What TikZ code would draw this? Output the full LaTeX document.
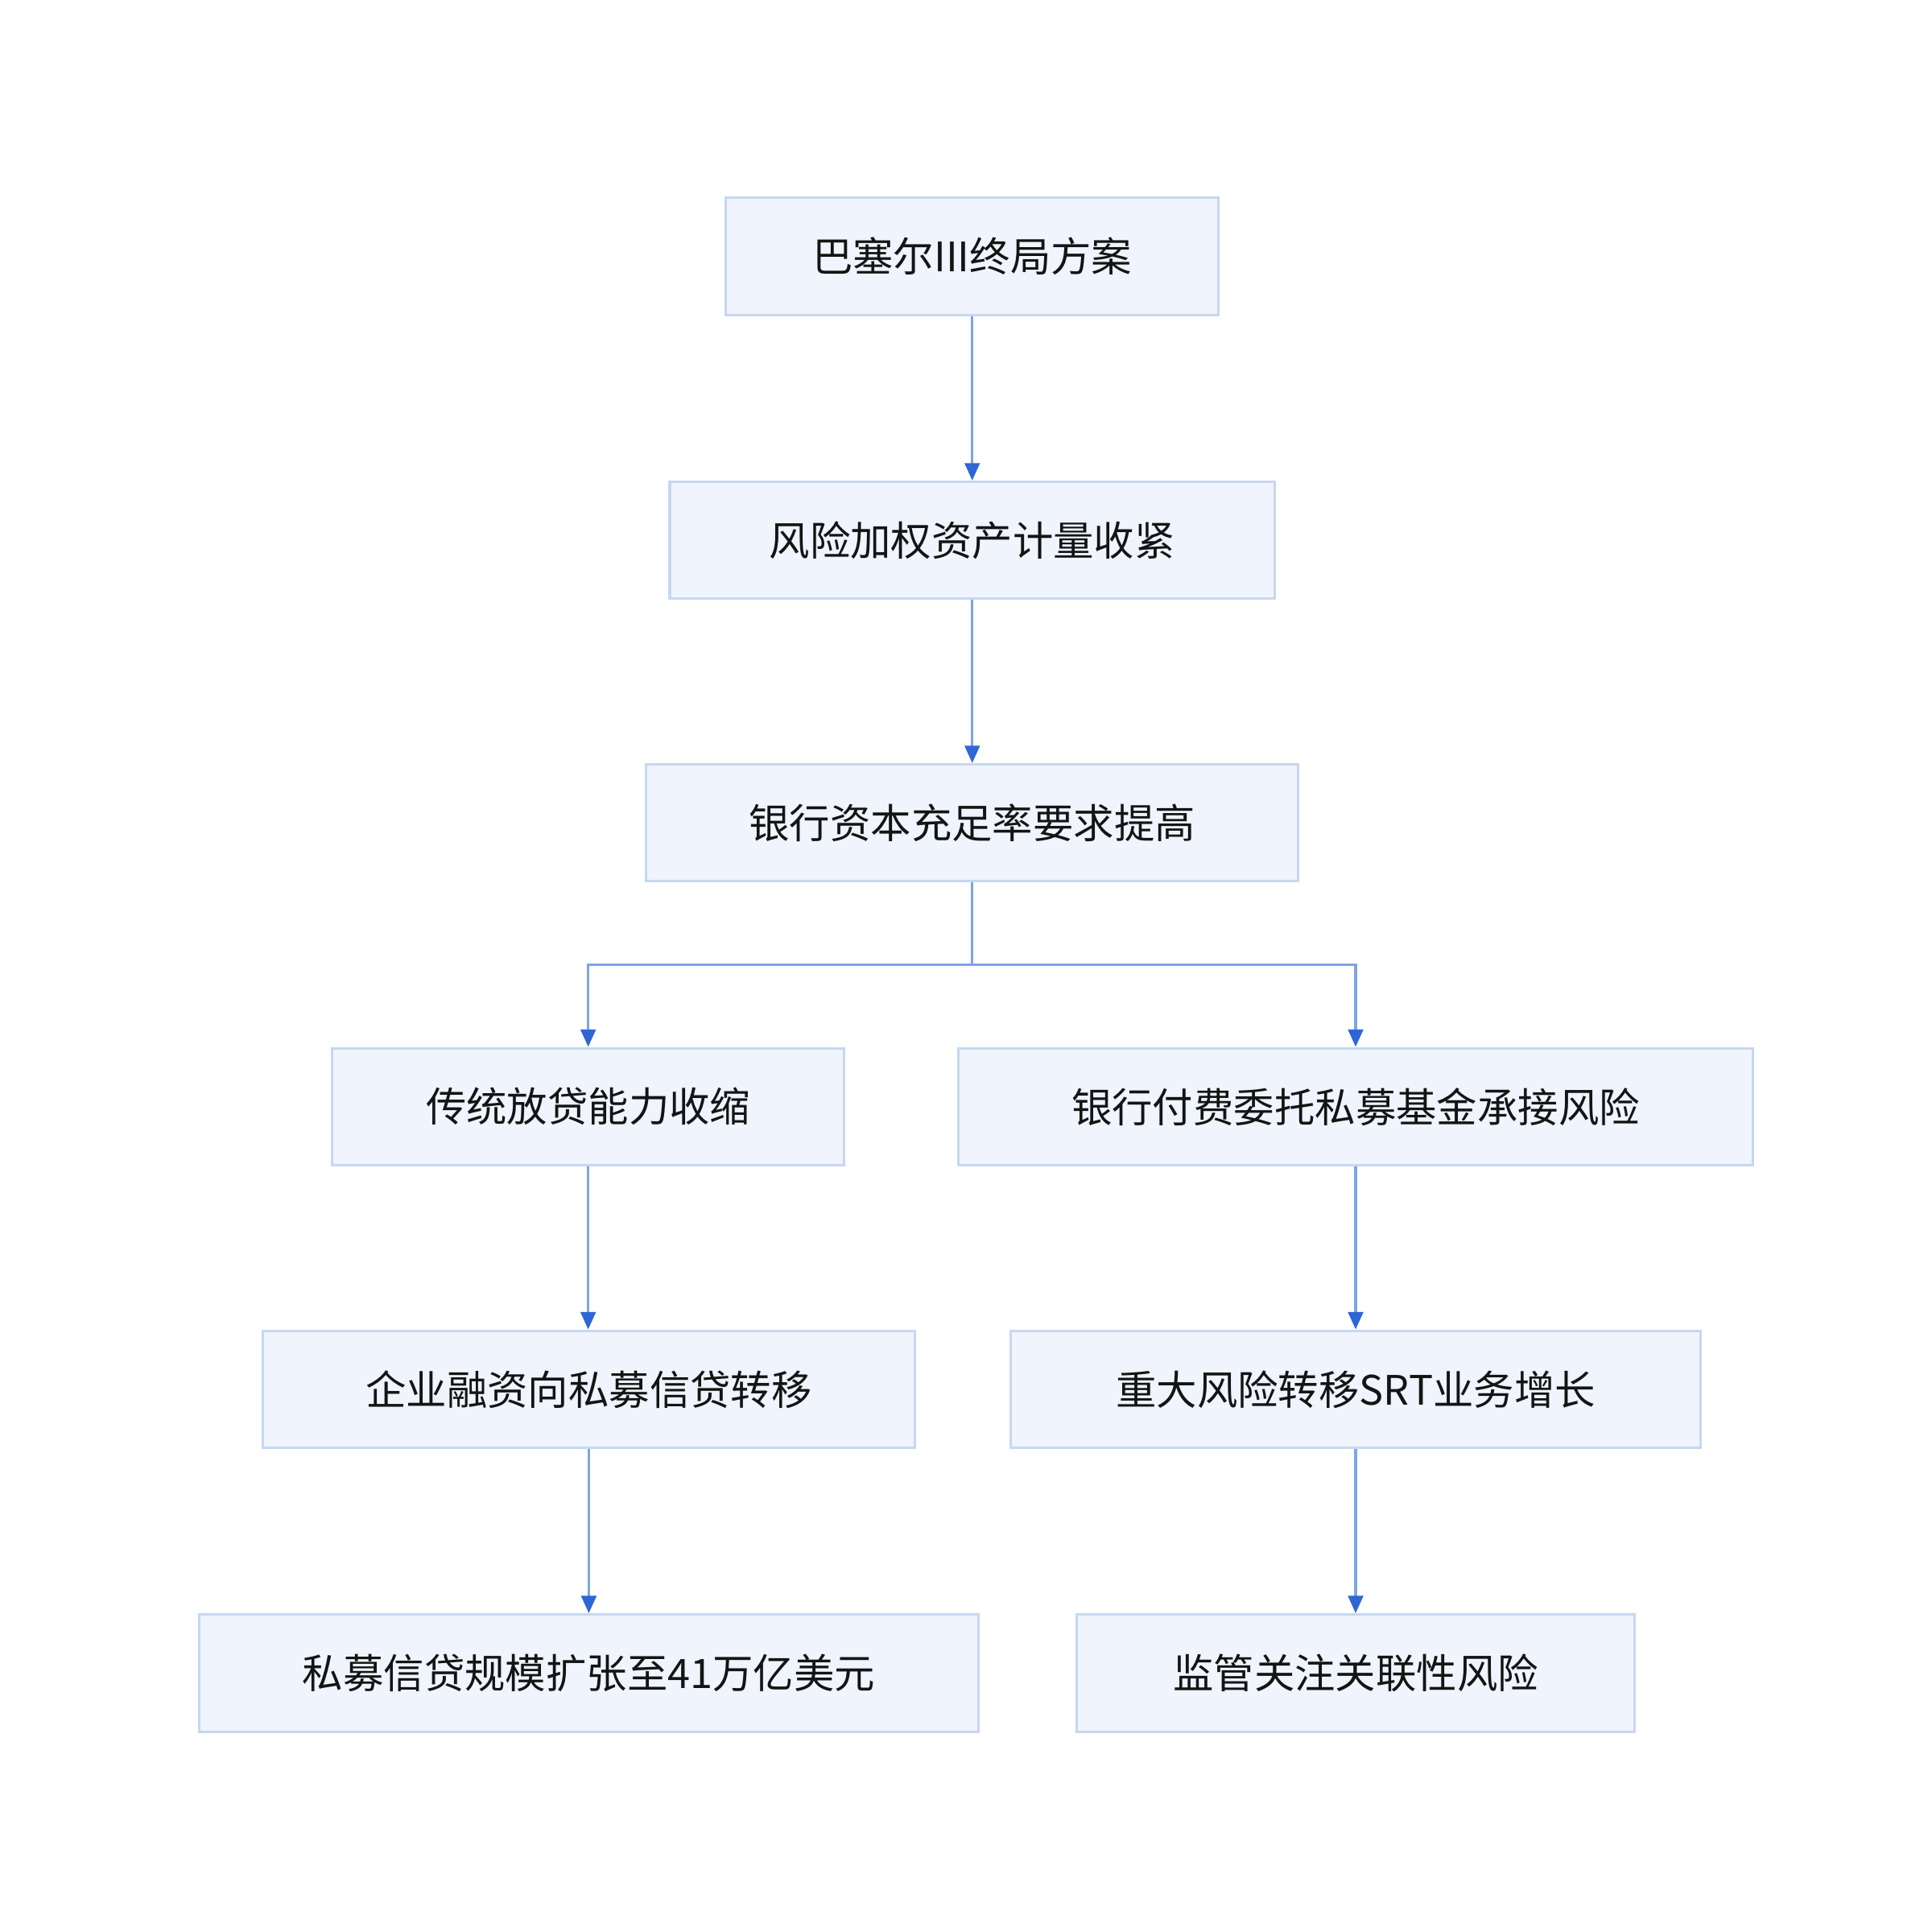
\documentclass[tikz,border=0pt]{standalone}
\usepackage{fontspec}
\setmainfont{Noto Sans CJK SC}
\usetikzlibrary{arrows.meta}
\definecolor{boxfill}{HTML}{EFF4FD}
\definecolor{boxline}{HTML}{C7D7F1}
\definecolor{linkline}{HTML}{7EA4E8}
\definecolor{tipblue}{HTML}{2F66D6}
\tikzset{
  stage/.style={draw=boxline,fill=boxfill,line width=1pt,font=\fontsize{16.3}{18}\selectfont,
    text=black!92,minimum height=47pt,inner sep=0pt},
  link/.style={draw=linkline,line width=1.1pt,-{Triangle[length=7pt,width=6pt,fill=tipblue,color=tipblue]}}
}
\begin{document}
\begin{tikzpicture}[x=0.5pt,y=-0.5pt]
  \useasboundingbox (0,0) rectangle (1552,1535);
  % stages
  \node[stage,minimum width=198pt] (basel) at (781,206) {巴塞尔III终局方案};
  \node[stage,minimum width=243pt] (rwa)   at (781,434) {风险加权资产计量收紧};
  \node[stage,minimum width=262pt] (cap)   at (781,661) {银行资本充足率要求提高};
  \node[stage,minimum width=205.5pt] (lend) at (472.5,889) {传统放贷能力收缩};
  \node[stage,minimum width=319pt] (fund)  at (1089,889) {银行付费委托私募基金承接风险};
  \node[stage,minimum width=262pt] (shift) at (473,1116) {企业融资向私募信贷转移};
  \node[stage,minimum width=277pt] (srt)   at (1089,1116) {重大风险转移SRT业务增长};
  \node[stage,minimum width=313pt] (size)  at (473,1344) {私募信贷规模扩张至41万亿美元};
  \node[stage,minimum width=224pt] (watch) at (1089,1344) {监管关注关联性风险};
  % links
  \draw[link] (basel) -- (rwa);
  \draw[link] (rwa) -- (cap);
  \draw[link] (cap.south) |- (472.5,775) -- (lend.north);
  \draw[link] (cap.south) |- (1089,775) -- (fund.north);
  \draw[link] (lend) -- (lend|-shift.north);
  \draw[link] (fund) -- (srt);
  \draw[link] (shift) -- (size);
  \draw[link] (srt) -- (watch);
\end{tikzpicture}
\end{document}
